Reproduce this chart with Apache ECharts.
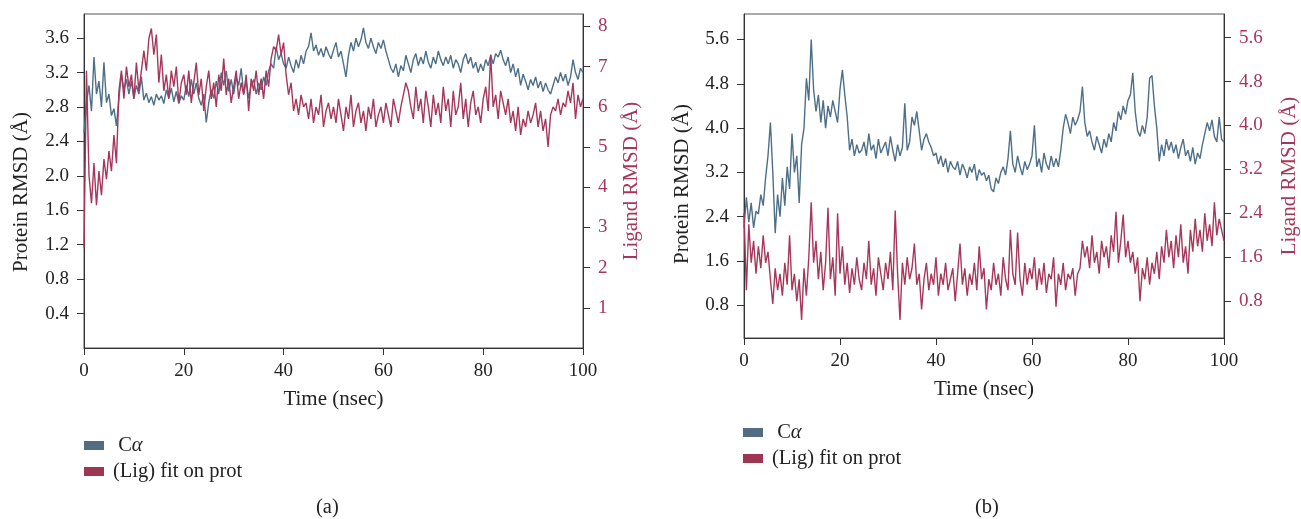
<!DOCTYPE html>
<html>
<head>
<meta charset="utf-8">
<script src="https://cdn.jsdelivr.net/npm/echarts@6/dist/echarts.min.js"></script>
<style>
html,body{margin:0;padding:0;background:#fff;}
#chart{width:1301px;height:519px;}
</style>
</head>
<body>
<div id="chart"></div>
<script>
// sampling grid (nsec), 0.5 ns steps
const time = Array.from({length: 201}, (_, i) => i * 0.5);

// Panel (a): protein C-alpha RMSD (left axis, Å)
const aCA = [
2.5,2.85,3.05,2.75,3.38,2.95,3.1,2.8,3.32,2.85,
2.95,2.7,2.78,2.58,2.9,3.18,3.0,3.12,2.95,3.1,
2.9,3.05,2.95,3.15,2.88,2.96,2.85,2.92,2.82,2.95,
2.88,2.93,2.84,3.0,2.9,3.02,2.86,2.98,2.84,2.93,
2.88,3.05,2.92,3.12,2.95,3.08,2.9,2.82,2.95,2.62,
2.85,3.0,2.9,3.1,2.95,3.2,3.05,3.22,2.98,3.12,
2.95,3.15,3.05,3.25,2.95,3.1,2.9,3.05,3.12,2.95,
3.08,3.0,3.15,3.05,3.22,3.3,3.25,3.5,3.35,3.42,
3.3,3.25,3.38,3.28,3.2,3.35,3.25,3.4,3.3,3.45,
3.5,3.66,3.45,3.52,3.4,3.48,3.38,3.5,3.42,3.36,
3.46,3.55,3.38,3.45,3.3,3.15,3.4,3.55,3.45,3.6,
3.5,3.58,3.72,3.55,3.48,3.6,3.5,3.42,3.55,3.48,
3.58,3.45,3.35,3.25,3.2,3.3,3.15,3.28,3.22,3.4,
3.3,3.2,3.35,3.42,3.28,3.38,3.3,3.45,3.32,3.25,
3.38,3.3,3.45,3.35,3.28,3.38,3.3,3.4,3.25,3.35,
3.3,3.2,3.35,3.42,3.3,3.38,3.25,3.32,3.2,3.3,
3.22,3.35,3.28,3.4,3.3,3.42,3.38,3.46,3.35,3.28,
3.38,3.2,3.3,3.15,3.25,3.05,3.18,3.1,3.0,3.12,
3.05,3.15,3.02,3.1,2.98,3.08,3.0,2.95,3.05,3.15,
3.08,3.2,3.1,3.18,3.05,3.15,3.35,3.2,3.12,3.25,
3.2];

// Panel (a): ligand RMSD (right axis, Å)
const aLig = [
2.5,6.9,4.3,3.6,4.6,3.55,4.4,3.8,4.7,4.2,
4.9,4.4,5.3,4.6,6.4,6.9,6.2,7.0,6.5,6.8,
6.2,7.1,6.4,6.9,7.4,6.9,7.7,7.95,7.3,7.8,
6.6,7.3,6.4,6.8,6.2,6.9,6.5,7.0,6.1,6.6,
6.8,6.3,6.9,6.1,6.6,7.1,6.3,6.7,5.9,6.5,
6.9,6.2,6.6,6.0,6.8,6.4,7.2,6.3,6.7,6.1,
6.5,6.9,6.2,6.6,6.3,6.8,5.9,6.7,6.4,6.9,
6.3,6.7,6.2,6.9,6.5,7.2,7.5,7.4,7.8,7.3,
7.6,6.8,6.3,6.6,5.9,6.2,5.8,6.3,6.0,6.1,
5.7,6.2,5.6,6.0,5.8,6.3,5.5,5.9,6.1,5.7,
6.0,5.6,6.2,5.8,5.4,6.0,5.7,6.3,5.5,5.9,
6.1,5.6,5.9,5.4,6.0,5.7,6.2,5.5,5.8,6.0,
5.6,6.1,5.8,5.5,6.2,5.9,5.6,6.0,6.3,6.6,
6.4,6.0,5.7,6.5,5.9,6.2,5.6,6.4,6.0,5.5,
6.3,5.8,6.1,5.6,6.5,5.9,6.2,5.5,6.4,5.8,
6.0,6.6,5.7,6.2,5.5,6.1,6.4,5.8,6.0,5.6,
6.2,6.5,5.9,7.3,6.0,6.3,5.7,6.4,6.1,5.8,
6.2,5.6,5.9,5.4,6.0,5.3,5.7,5.5,5.9,5.6,
5.8,6.1,5.5,5.9,5.4,5.7,5.0,5.8,6.0,5.9,
6.2,5.8,6.1,6.0,6.4,6.1,6.6,5.7,6.3,6.0,
6.2];

// Panel (b): protein C-alpha RMSD (left axis, Å)
const bCA = [
2.2,2.75,2.3,2.65,2.2,2.5,2.45,2.8,2.6,3.1,
3.5,4.1,3.2,2.1,2.8,2.4,3.1,2.6,3.3,2.9,
3.9,3.2,3.5,2.65,3.7,4.0,4.9,4.5,5.6,4.7,
4.3,4.6,4.1,4.5,4.0,4.4,4.2,4.5,4.3,4.1,
4.7,5.05,4.6,4.2,3.6,3.8,3.5,3.7,3.55,3.6,
3.75,3.5,3.9,3.6,3.7,3.45,3.8,3.55,3.65,3.75,
3.5,3.85,3.6,3.4,3.7,3.5,3.65,4.45,3.6,3.75,
4.2,4.05,4.3,3.95,3.6,3.8,3.9,3.75,3.65,3.5,
3.55,3.35,3.5,3.3,3.45,3.2,3.4,3.3,3.25,3.4,
3.15,3.35,3.25,3.1,3.3,3.2,3.35,3.05,3.25,3.15,
3.2,3.05,3.15,2.9,2.85,3.1,3.0,3.2,3.3,3.15,
3.45,3.95,3.35,3.2,3.5,3.3,3.15,3.4,3.25,3.35,
3.5,4.05,3.3,3.45,3.2,3.55,3.35,3.25,3.5,3.3,
3.45,3.3,3.6,4.0,4.25,4.1,3.9,4.2,4.05,4.15,
4.3,4.75,4.1,3.85,3.95,3.75,3.6,3.85,3.7,3.55,
3.8,3.65,3.9,3.75,4.1,3.95,4.3,4.15,4.4,4.25,
4.5,4.6,5.0,4.3,3.95,3.85,4.05,3.9,4.2,4.9,
4.95,4.4,4.0,3.4,3.7,3.5,3.8,3.6,3.75,3.55,
3.7,3.45,3.65,3.8,3.5,3.6,3.4,3.65,3.35,3.55,
3.45,3.7,3.9,4.1,3.95,4.15,3.85,3.75,4.2,3.8,
3.75];

// Panel (b): ligand RMSD (right axis, Å)
const bLig = [
2.4,1.0,2.2,1.5,1.9,1.3,1.8,1.4,2.0,1.5,
1.7,1.2,0.75,1.4,1.0,1.3,0.9,1.5,1.1,2.0,
1.0,1.3,0.8,1.2,0.46,1.4,0.9,1.6,2.6,1.5,
1.9,1.2,1.7,1.0,1.5,2.5,1.2,1.6,0.9,2.4,
1.3,1.8,1.1,1.5,0.95,1.4,1.1,1.6,1.2,1.0,
1.5,1.2,1.9,1.1,1.4,0.9,1.6,1.3,1.0,1.5,
1.2,1.7,1.0,2.45,1.3,0.46,1.5,1.1,1.6,1.2,
1.4,1.85,1.1,1.3,0.65,1.2,1.5,1.0,1.3,1.1,
1.6,0.9,1.3,1.1,1.5,1.0,1.2,1.4,0.8,1.3,
1.85,1.1,1.4,0.9,1.3,1.1,1.5,1.0,1.8,1.2,
1.4,0.65,1.2,1.0,1.5,1.1,1.3,0.9,1.6,1.2,
1.0,2.1,1.3,1.1,2.05,1.2,0.9,1.5,1.1,1.4,
1.2,1.6,1.0,1.4,1.1,1.5,0.95,1.3,1.2,1.6,
0.7,1.3,1.1,1.5,1.0,1.3,1.2,1.4,0.9,1.3,
1.4,1.9,1.6,1.8,1.4,2.0,1.5,1.7,1.3,1.9,
1.6,1.8,1.4,2.0,1.7,2.43,1.5,1.9,2.38,1.6,
1.9,1.5,1.7,1.3,1.6,0.8,1.4,1.2,1.6,1.1,
1.5,1.3,1.7,1.2,1.8,1.5,2.1,1.6,1.9,1.4,
2.0,1.6,2.2,1.5,1.8,1.3,2.1,1.7,2.3,1.8,
2.1,1.7,2.4,1.9,2.2,1.8,2.6,2.0,2.3,2.1,
1.9];

// tick labels
const xTicks = [0, 20, 40, 60, 80, 100];
const aLeftTicks = [0.4, 0.8, 1.2, 1.6, 2.0, 2.4, 2.8, 3.2, 3.6];
const aRightTicks = [1, 2, 3, 4, 5, 6, 7, 8];
const bTicks = [0.8, 1.6, 2.4, 3.2, 4.0, 4.8, 5.6];

const seriesNames = ['C\u03b1', '(Lig) fit on prot'];

const BLUE = '#4d6f88';
const RED = '#a6375a';
const LEG_BLUE = '#526c82';
const LEG_RED = '#9d3553';
const INK = '#222';
const FONT = 'Liberation Serif';
const FS = 19;     // tick labels
const FT = 21;     // axis titles
const FL = 20.5;   // legend / panel labels

const pairs = (vals) => vals.map((v, i) => [time[i], v]);

function xAxis(gridIndex, name) {
  return {
    type: 'value', gridIndex, min: 0, max: 100,
    axisLine: {show: true, lineStyle: {color: '#333', width: 1}},
    axisTick: {show: true, inside: false, length: 7, customValues: xTicks, lineStyle: {color: '#333'}},
    axisLabel: {customValues: xTicks, margin: 14, color: INK, fontFamily: FONT, fontSize: FS},
    splitLine: {show: false},
    name, nameLocation: 'middle', nameGap: 41,
    nameTextStyle: {color: INK, fontFamily: FONT, fontSize: FT}
  };
}

function yAxis(gridIndex, pos, min, max, ticks, digits, color, name, gap, shift) {
  return {
    type: 'value', gridIndex, position: pos, min, max,
    axisLine: {show: true, lineStyle: {color: '#333', width: 1}},
    axisTick: {show: true, inside: false, length: 7, customValues: ticks, lineStyle: {color: '#333'}},
    axisLabel: {customValues: ticks, margin: 15, color, fontFamily: FONT, fontSize: FS,
      formatter: v => v.toFixed(digits)},
    splitLine: {show: false},
    name, nameLocation: 'middle', nameGap: gap,
    nameTextStyle: {color, fontFamily: FONT, fontSize: FT, padding: [0, shift, 0, 0]}
  };
}

function line(name, vals, xi, yi, color) {
  return {
    type: 'line', name, xAxisIndex: xi, yAxisIndex: yi, data: pairs(vals),
    showSymbol: false, symbol: 'none', sampling: 'none',
    lineStyle: {color, width: 1.4}, itemStyle: {color},
    emphasis: {disabled: true}
  };
}

function legend(left, top) {
  return {
    left, top, padding: 0, orient: 'vertical', icon: 'rect', itemWidth: 20, itemHeight: 9, itemGap: 5,
    data: [{name: seriesNames[0], itemStyle: {color: LEG_BLUE}}, {name: seriesNames[1], itemStyle: {color: LEG_RED}}],
    selectedMode: false,
    textStyle: {color: INK, fontFamily: FONT, fontSize: FL, lineHeight: 21, padding: [0, 0, 0, 4],
      rich: {n: {fontFamily: FONT, fontSize: FL, color: INK}, i: {fontFamily: FONT, fontSize: FL, fontStyle: 'italic', color: INK}}},
    formatter: n => n === seriesNames[0] ? '{n| C}{i|\u03b1}' : '{n|' + n + '}'
  };
}

const chart = echarts.init(document.getElementById('chart'), null, {renderer: 'canvas'});
chart.setOption({
  backgroundColor: '#fff',
  animation: false,
  grid: [
    {left: 84, top: 14, width: 499, height: 334, show: true, borderColor: '#555', borderWidth: 1, backgroundColor: 'transparent'},
    {left: 744, top: 14, width: 485, height: 324, show: true, borderColor: '#555', borderWidth: 1, backgroundColor: 'transparent'}
  ],
  xAxis: [xAxis(0, 'Time (nsec)'), xAxis(1, 'Time (nsec)')],
  yAxis: [
    yAxis(0, 'left', 0, 3.88, aLeftTicks, 1, INK, 'Protein RMSD (\u00c5)', 52, 22),
    yAxis(0, 'right', 0, 8.31, aRightTicks, 0, RED, 'Ligand RMSD (\u00c5)', 38, 0),
    yAxis(1, 'left', 0.21, 6.06, bTicks, 1, INK, 'Protein RMSD (\u00c5)', 51, 16),
    yAxis(1, 'right', 0.13, 6.03, bTicks, 1, RED, 'Ligand RMSD (\u00c5)', 55, 0)
  ],
  legend: [legend(84, 435), legend(743, 422)],
  series: [
    line(seriesNames[0], aCA, 0, 0, BLUE),
    line(seriesNames[1], aLig, 0, 1, RED),
    line(seriesNames[0], bCA, 1, 2, BLUE),
    line(seriesNames[1], bLig, 1, 3, RED)
  ],
  graphic: [
    {type: 'text', left: 316, top: 497, style: {text: '(a)', font: FL + 'px "' + FONT + '"', fill: INK}},
    {type: 'text', left: 975, top: 497, style: {text: '(b)', font: FL + 'px "' + FONT + '"', fill: INK}}
  ]
});
</script>
</body>
</html>
